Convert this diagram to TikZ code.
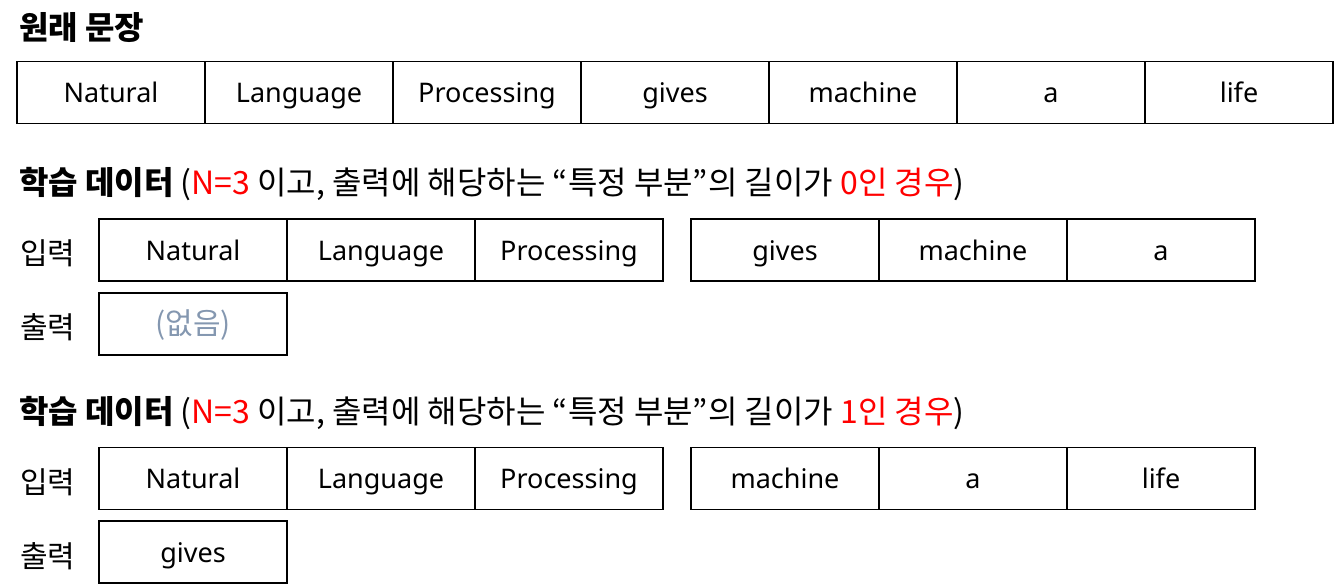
\documentclass[tikz,border=0pt]{standalone}
\usepackage{fontspec}
\setmainfont{Noto Sans}
\newfontfamily\kr{Noto Sans CJK KR}
\definecolor{hlred}{HTML}{FF0000}
\definecolor{nonegray}{HTML}{8497B0}
\tikzset{
  cell/.style={draw, line width=1.6pt, minimum width=188pt, minimum height=62pt, inner sep=0pt,
    font=\fontsize{27}{30}\selectfont, text height=20pt, text depth=0pt},
  heading/.style={anchor=base west, inner sep=0pt, font=\kr\fontsize{32}{36}\selectfont},
  rowlabel/.style={anchor=base west, inner sep=0pt, font=\kr\fontsize{30}{34}\selectfont},
}
\begin{document}
\begin{tikzpicture}[x=1pt,y=-1pt]
\useasboundingbox (0,0) rectangle (1337,587);
% heading 1
\node[heading] (h1) at (19,39) {\bfseries 원래 문장};
\foreach \w [count=\i] in {Natural,Language,Processing,gives,machine,a,life}{
  \node[cell] (s\i) at ({111+188*(\i-1)},92.5) {\w};
}
% heading 2
\node[heading] (h2) at (19,194) {\textbf{학습 데이터} (\textcolor{hlred}{N=3} 이고, 출력에 해당하는 “특정 부분”의 길이가 \textcolor{hlred}{0인 경우})};
\node[rowlabel] (in2) at (20,264) {입력};
\node[rowlabel] (out2) at (20,338) {출력};
\node[cell] (a1) at (193,250) {Natural};
\node[cell] (a2) at (381,250) {Language};
\node[cell] (a3) at (569,250) {Processing};
\node[cell] (a4) at (785,250) {gives};
\node[cell] (a5) at (973,250) {machine};
\node[cell] (a6) at (1161,250) {a};
\node[cell, text=nonegray, font=\kr\fontsize{30}{34}\selectfont] (ao) at (193,324) {(없음)};
% heading 3
\node[heading] (h3) at (19,423) {\textbf{학습 데이터} (\textcolor{hlred}{N=3} 이고, 출력에 해당하는 “특정 부분”의 길이가 \textcolor{hlred}{1인 경우})};
\node[rowlabel] (in3) at (20,493) {입력};
\node[rowlabel] (out3) at (20,567) {출력};
\node[cell] (b1) at (193,478.5) {Natural};
\node[cell] (b2) at (381,478.5) {Language};
\node[cell] (b3) at (569,478.5) {Processing};
\node[cell] (b4) at (785,478.5) {machine};
\node[cell] (b5) at (973,478.5) {a};
\node[cell] (b6) at (1161,478.5) {life};
\node[cell] (bo) at (193,552) {gives};
\end{tikzpicture}
\end{document}
